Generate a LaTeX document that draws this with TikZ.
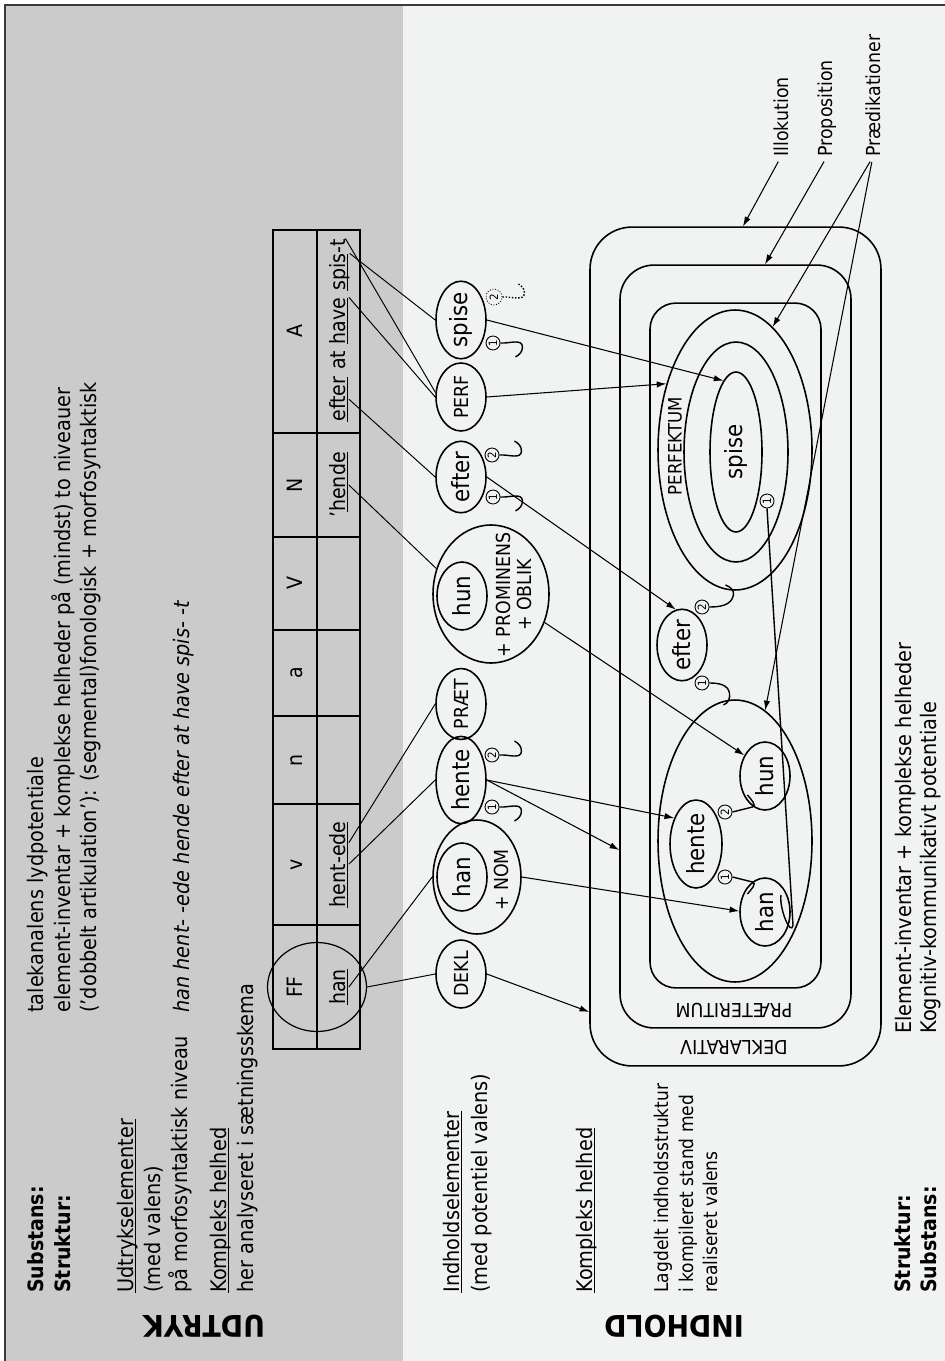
\documentclass[tikz,border=0pt]{standalone}
\usepackage{fontspec}
\setmainfont{DejaVu Sans}[FakeStretch=0.9]
\usepackage{graphicx}
\usetikzlibrary{shapes.geometric, arrows.meta, positioning, calc}
\definecolor{UdtrykGrey}{HTML}{CBCBCB}
\definecolor{IndholdGrey}{HTML}{F1F2F2}
\definecolor{FrameGrey}{HTML}{3A3A3A}
\newcommand{\up}[1]{\rotatebox{90}{#1}}
\newcommand{\ul}[1]{\underline{\smash{#1}}\vphantom{#1}}
\tikzset{
    % running text, turned so that it reads upwards
    vtext/.style={rotate=90, anchor=base west, inner sep=0pt,
        font=\fontsize{12.2}{14}\selectfont},
    vbold/.style={vtext, font=\fontsize{12}{14}\selectfont\bfseries},
    vsmall/.style={vtext, font=\fontsize{10.8}{13}\selectfont},
    vlabel/.style={vtext, font=\fontsize{11}{13}\selectfont},
    headword/.style={rotate=180, inner sep=0pt,
        font=\fontsize{17}{17}\selectfont\bfseries},
    % words in the table
    cell/.style={rotate=90, anchor=base, inner sep=0pt,
        font=\fontsize{12}{14}\selectfont},
    word/.style={rotate=90, anchor=base west, inner sep=0pt,
        font=\fontsize{12}{14}\selectfont},
    % content elements
    elem/.style={ellipse, draw, line width=0.9pt, inner sep=0pt,
        minimum width=1cm, minimum height=1.36cm,
        font=\fontsize{13.5}{15}\selectfont},
    opbox/.style={elem, font=\fontsize{11}{13}\selectfont},
    ring/.style={ellipse, draw, line width=0.9pt, inner sep=0pt},
    feature/.style={rotate=90, anchor=base, inner sep=0pt,
        font=\fontsize{11}{13}\selectfont},
    slot/.style={circle, draw, line width=0.5pt, inner sep=0pt,
        minimum size=0.28cm, font=\fontsize{6.5}{7}\selectfont},
    layer/.style={draw, line width=0.9pt, inner sep=0pt},
    layertext/.style={rotate=180, inner sep=0pt,
        font=\fontsize{11}{13}\selectfont},
    % connectors
    link/.style={line width=0.55pt},
    arrow/.style={-{Latex[length=5.5pt,width=3.6pt]}, line width=0.6pt},
    hook/.style={line width=0.8pt}
}
\begin{document}
\begin{tikzpicture}[x=0.02cm, y=-0.02cm]
    \useasboundingbox (0,0) rectangle (945,1361);
    % the two bands
    \fill[UdtrykGrey] (5,5) rectangle (403,1361);
    \fill[IndholdGrey] (403,5) rectangle (945,1361);
    \draw[FrameGrey, line width=0.9pt] (5,1361) -- (5,5) -- (945,5);

    % UDTRYK band, texts
    \node[vbold] (subst1) at (43,1293) {Substans:};
    \node[vbold] (strukt1) at (70,1293) {Struktur:};
    \node[vtext] (lyd) at (43,1013) {talekanalens lydpotentiale};
    \node[vtext] (inv) at (70,1013) {element-inventar + komplekse helheder på (mindst) to niveauer};
    \node[vtext] (artik) at (96,1013) {('dobbelt artikulation'): (segmental)fonologisk + morfosyntaktisk};
    \node[vtext] (udtEl) at (133,1293) {\ul{Udtrykselementer}};
    \node[vtext] (medVal) at (160,1293) {(med valens)};
    \node[vtext] (morfo) at (187,1293) {på morfosyntaktisk niveau};
    \node[vtext, font=\fontsize{12.2}{14}\selectfont\itshape] (exSent) at (189,1013) {han hent- -ede hende efter at have spis- -t};
    \node[vtext] (kompU) at (226,1293) {\ul{Kompleks helhed}};
    \node[vtext] (analys) at (253,1293) {her analyseret i sætningsskema};
    \node[headword] (udtryk) at (204,1326) {UDTRYK};

    % sentence scheme
    \draw[line width=0.7pt] (273,230) rectangle (360,1049);
    \draw[line width=0.7pt] (317,230) -- (317,1049);
    \foreach \yy in {433,537,630,716,804,925}
        \draw[line width=0.7pt] (273,\yy) -- (360,\yy);
    \foreach \lbl/\yy in {A/331.5, N/485, V/583.5, a/673, n/760, v/864.5, FF/987}
        \node[cell] (hd\lbl) at (302,\yy) {\lbl};
    \node[word] (tEfter) at (345,422) {\ul{efter}};
    \node[word] (tAt) at (tEfter.base east) {\ at};
    \node[word] (tHave) at (tAt.base east) {\ \ul{have}};
    \node[word] (tSpis) at (tHave.base east) {\ \ul{spis}};
    \node[word] (tT) at (tSpis.base east) {-t};
    \node[cell] (tHende) at (345,485) {’\ul{hende}};
    \node[word] (tHent) at (345,908) {\ul{hent}};
    \node[word] (tEde) at (tHent.base east) {\ul{-ede}};
    \node[cell] (tHan) at (345,987) {\ul{han}};
    \node[ring, line width=0.7pt, minimum width=1.98cm, minimum height=1.78cm] (ffRing) at (317,987) {};

    % INDHOLD band, texts
    \node[vtext] (indEl) at (459,1293) {\ul{Indholdselementer}};
    \node[vtext] (potVal) at (487,1293) {(med potentiel valens)};
    \node[vtext] (kompI) at (592,1293) {\ul{Kompleks helhed}};
    \node[vsmall] (lag1) at (668,1293) {Lagdelt indholdsstruktur};
    \node[vsmall] (lag2) at (693,1293) {i kompileret stand med};
    \node[vsmall] (lag3) at (717,1293) {realiseret valens};
    \node[headword] (indhold) at (674,1326) {INDHOLD};
    \node[vtext] (elemInv) at (911,1034) {Element-inventar + komplekse helheder};
    \node[vtext] (kogn) at (936,1034) {Kognitiv-kommunikativt potentiale};
    \node[vbold] (strukt2) at (910,1293) {Struktur:};
    \node[vbold] (subst2) at (936,1293) {Substans:};

    % content elements with valence slots
    \node[elem, minimum height=1.32cm] (spise) at (461,320) {\up{spise}};
    \node[opbox] (perf) at (461,397) {\up{PERF}};
    \node[elem, minimum height=1.4cm] (efterA) at (461,477) {\up{efter}};
    \node[ring, minimum width=2.32cm, minimum height=2.76cm] (hunP) at (491,594) {};
    \node[elem] (hunIn) at (462,596) {\up{hun}};
    \node[feature] (prom) at (510,595) {+ PROMINENS};
    \node[feature] (oblik) at (531,595) {+ OBLIK};
    \node[opbox] (praet) at (461,704) {\up{PRÆT}};
    \node[elem, minimum height=1.4cm] (henteA) at (461,780) {\up{hente}};
    \node[ring, minimum width=1.76cm, minimum height=2.28cm] (hanN) at (477,877) {};
    \node[elem] (hanIn) at (462,877) {\up{han}};
    \node[feature] (nom) at (508,880) {+ NOM};
    \node[opbox] (dekl) at (461,974) {\up{DEKL}};

    \node[slot] (spS1) at (493,343) {\up{1}};
    \node[slot, densely dotted, minimum size=0.32cm] (spS2) at (494,297) {\up{2}};
    \node[slot] (efS2) at (492,455) {\up{2}};
    \node[slot] (efS1) at (493,497) {\up{1}};
    \node[slot] (heS2) at (492,755) {\up{2}};
    \node[slot] (heS1) at (492,807) {\up{1}};
    \draw[hook] (spS1.east) to[out=-5,in=90] ++(22,4) to[out=-90,in=30] ++(-7,10);
    \draw[hook, densely dotted] (spS2.east) to[out=5,in=-90] ++(22,-4) to[out=90,in=-30] ++(-6,-9);
    \draw[hook] (efS2.east) to[out=5,in=-90] ++(22,-4) to[out=90,in=-30] ++(-7,-10);
    \draw[hook] (efS1.east) to[out=-5,in=90] ++(22,4) to[out=-90,in=30] ++(-7,10);
    \draw[hook] (heS2.east) to[out=5,in=-90] ++(22,-4) to[out=90,in=-30] ++(-7,-10);
    \draw[hook] (heS1.east) to[out=-5,in=90] ++(22,4) to[out=-90,in=30] ++(-7,10);

    % layered content structure
    \node[layer, rounded corners=0.84cm, minimum width=5.82cm, minimum height=16.78cm] (illokBox) at (735.5,646.5) {};
    \node[layer, rounded corners=0.68cm, minimum width=4.62cm, minimum height=15.26cm] (propBox) at (735.5,646.5) {};
    \node[layer, rounded corners=0.52cm, minimum width=3.42cm, minimum height=13.7cm] (tempBox) at (735.5,645.5) {};
    \node[layertext] (deklLbl) at (734,1048) {DEKLARATIV};
    \node[layertext] (praetLbl) at (734,1010) {PRÆTERITUM};

    \node[ring, minimum width=3.08cm, minimum height=5.6cm] (perfEll) at (735,450) {};
    \node[ring, minimum width=2.08cm, minimum height=4.4cm] (praedEll) at (736,452) {};
    \node[elem, minimum width=1.04cm, minimum height=3.2cm] (spiseIn) at (736,452) {\up{spise}};
    \node[rotate=90, inner sep=0pt, font=\fontsize{10.5}{12}\selectfont] (perfLbl) at (675,446) {PERFEKTUM};
    \node[elem, minimum height=1.4cm] (efterIn) at (682,645) {\up{efter}};
    \node[ring, minimum width=3.08cm, minimum height=5.64cm] (bigEll) at (735,841) {};
    \node[elem, minimum width=1.04cm, minimum height=1.76cm] (henteIn) at (696,844) {\up{hente}};
    \node[elem] (hunIn2) at (765,776) {\up{hun}};
    \node[elem] (hanIn2) at (765,912) {\up{han}};

    \node[slot] (siS1) at (767,501) {\up{1}};
    \node[slot] (eiS2) at (702,607) {\up{2}};
    \node[slot] (eiS1) at (702,683) {\up{1}};
    \node[slot] (hiS2) at (725,812) {\up{2}};
    \node[slot] (hiS1) at (725,877) {\up{1}};
    \draw[hook] (hiS2.east) -- ++(20,-5) to[out=15,in=-50] ++(-5,-12);
    \draw[hook] (hiS1.east) -- ++(20,5) to[out=-15,in=50] ++(-5,12);
    \draw[hook] (eiS2.east) to[out=0,in=-100] ++(24,-12) to[out=80,in=-20] ++(-8,-10);
    \draw[hook] (eiS1.east) to[out=0,in=100] ++(20,10) to[out=-80,in=20] ++(-6,12);
    \draw[hook] (siS1.south) -- (793,925) to[out=-100,in=-100] ++(-12,-30);

    % expression to content
    \draw[link] (tHan.south) -- (hanN.west);
    \draw[link] (ffRing.east) -- (dekl.west);
    \draw[link] (tHent.south east) -- (henteA.west);
    \draw[link] (tEde.south) -- (praet.west);
    \draw[link] (tHende.south) -- (hunP.155);
    \draw[link] (tEfter.south) -- (efterA.west);
    \draw[link] (tHave.south east) -- (perf.west);
    \draw[link] (tT.south east) -- (perf.170);
    \draw[link] (tSpis.south east) -- (spise.west);

    % elements into the layers
    \draw[arrow] (spise.east) -- (spiseIn.100);
    \draw[arrow] (perf.east) -- (perfEll.136);
    \draw[arrow] (efterA.east) -- (efterIn.100);
    \draw[arrow] (hunP.-28) -- (hunIn2.135);
    \draw[arrow] (henteA.east) -- (henteIn.130);
    \draw[arrow] (henteA.east) -- ([yshift=-4.07cm]propBox.west);
    \draw[arrow] (hanN.east) -- (hanIn2.178);
    \draw[arrow] (dekl.east) -- ([yshift=-7.31cm]illokBox.west);

    % layer names
    \node[vlabel] (lblIllok) at (788,157) {Illokution};
    \node[vlabel] (lblProp) at (832,157) {Proposition};
    \node[vlabel] (lblPraed) at (880,157) {Prædikationer};
    \draw[arrow, shorten <=3pt] (lblIllok.west) -- ([xshift=0.15cm]illokBox.north);
    \draw[arrow, shorten <=3pt] (lblProp.west) -- ([xshift=0.59cm]propBox.north);
    \draw[arrow, shorten <=3pt] (lblPraed.west) -- (perfEll.73);
    \draw[arrow, shorten <=3pt] (lblPraed.west) -- (bigEll.77);
\end{tikzpicture}
\end{document}
